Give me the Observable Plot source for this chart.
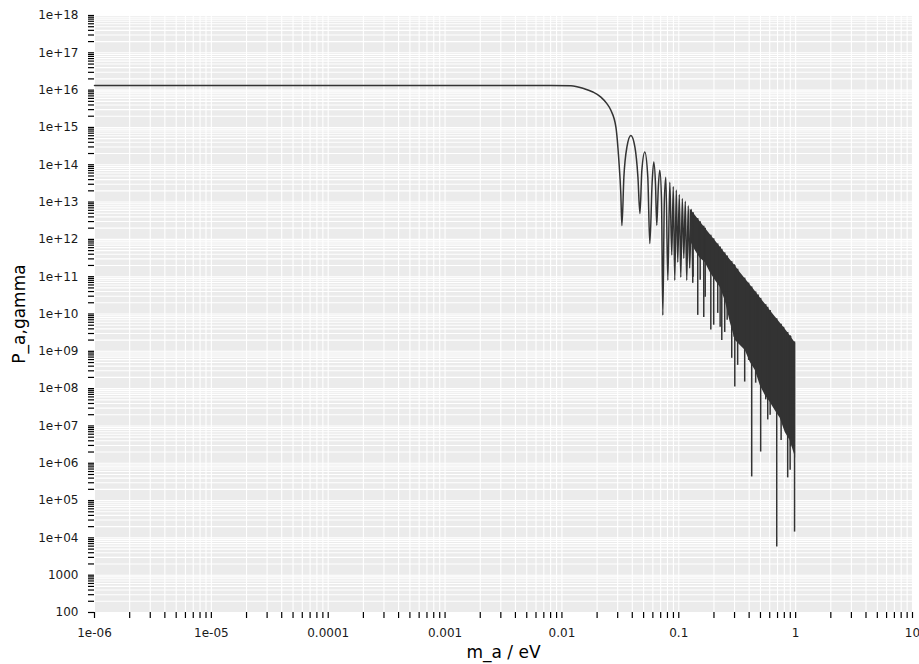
<!DOCTYPE html>
<html><head><meta charset="utf-8">
<script src="https://cdn.jsdelivr.net/npm/d3@7"></script>
<script src="https://cdn.jsdelivr.net/npm/@observablehq/plot@0.6"></script>
<style>body{margin:0;background:#fff;}</style>
</head><body><div id="chart"></div>
<script>
// Axis ticks (major decades) and their labels
const xMajorTicks = [1e-6, 1e-5, 1e-4, 1e-3, 1e-2, 1e-1, 1, 10];
const xTickLabels = ["1e-06", "1e-05", "0.0001", "0.001", "0.01", "0.1", "1", "10"];
const yMajorTicks = [1e2, 1e3, 1e4, 1e5, 1e6, 1e7, 1e8, 1e9, 1e10, 1e11, 1e12, 1e13, 1e14, 1e15, 1e16, 1e17, 1e18];
const yTickLabels = ["100", "1000", "1e+04", "1e+05", "1e+06", "1e+07", "1e+08", "1e+09", "1e+10", "1e+11", "1e+12", "1e+13", "1e+14", "1e+15", "1e+16", "1e+17", "1e+18"];

// Resolved part of the curve: m_a (eV) and P_a,gamma
const lineM = [1e-6, 0.00805, 0.01194, 0.0154, 0.0184, 0.02155, 0.02425, 0.02624, 0.02897, 0.0307, 0.0319, 0.0326, 0.0339, 0.036, 0.0389, 0.0421, 0.0447, 0.0465, 0.0483, 0.0512, 0.0543, 0.0565, 0.0592, 0.0611, 0.0632, 0.0648, 0.0668, 0.0688, 0.0712, 0.073, 0.0752, 0.0775, 0.0806, 0.0838, 0.0871, 0.0897, 0.0924, 0.0952, 0.098, 0.101, 0.104, 0.1072, 0.1104, 0.1137, 0.117, 0.1205, 0.124, 0.128, 0.1318];
const lineP = [1.34e16, 1.34e16, 1.32e16, 1.10e16, 8.9e15, 6.5e15, 4.35e15, 2.88e15, 1.02e15, 1.3e14, 1.7e13, 2.35e12, 4.7e13, 3.0e14, 6.1e14, 3.0e14, 4.7e13, 4.9e12, 7.1e13, 2.2e14, 4.7e13, 7.7e11, 3.5e13, 1.19e14, 3.0e13, 2.4e12, 2.5e13, 7.1e13, 1.0e13, 9.3e9, 1.0e13, 4.6e13, 8.0e10, 3.4e13, 3.8e11, 2.6e13, 8.0e10, 2.1e13, 2.45e11, 1.6e13, 9.7e10, 1.25e13, 3.1e11, 1.05e13, 8.0e10, 8.0e12, 1.7e11, 6.4e12, 7.1e10];

// Dense oscillation band: upper envelope and filled lower edge
const bandM = [0.1252, 0.138, 0.1524, 0.1683, 0.1858, 0.2051, 0.2259, 0.2494, 0.2754, 0.3042, 0.335, 0.370, 0.4085, 0.451, 0.4977, 0.5487, 0.605, 0.668, 0.738, 0.815, 0.897, 1.0];
const bandTop = [6.5e12, 4.4e12, 2.98e12, 2.0e12, 1.36e12, 9.2e11, 6.2e11, 4.2e11, 2.84e11, 1.92e11, 1.30e11, 8.8e10, 5.96e10, 4.04e10, 2.72e10, 1.85e10, 1.25e10, 8.4e9, 5.7e9, 3.9e9, 2.6e9, 1.63e9];
const bandBottom = [9.4e11, 5.1e11, 3.1e11, 2.4e11, 1.3e11, 8.0e10, 5.2e10, 2.3e10, 6.0e9, 1.97e9, 1.45e9, 1.06e9, 5.1e8, 3.1e8, 1.22e8, 6.6e7, 4.3e7, 2.6e7, 1.6e7, 6.7e6, 4.1e6, 1.36e6];

// Deep minima (spikes) inside the band
const spikeM = [0.1327, 0.1453, 0.1524, 0.1636, 0.1683, 0.188, 0.199, 0.2154, 0.2259, 0.2333, 0.2472, 0.2594, 0.2838, 0.298, 0.3015, 0.319, 0.3664, 0.396, 0.4207, 0.455, 0.4775, 0.502, 0.5547, 0.577, 0.605, 0.689, 0.751, 0.789, 0.855, 0.897, 0.906, 0.979];
const spikeP = [9.6e10, 9.2e9, 8.0e10, 8.1e9, 2.8e10, 3.7e9, 5.0e9, 1.04e10, 4.4e9, 1.96e9, 3.2e9, 6.8e9, 6.5e8, 2.37e9, 1.1e8, 4.2e8, 1.5e8, 5.7e8, 4.3e5, 1.4e8, 3.1e8, 2.0e6, 5.0e7, 1.45e7, 1.93e7, 5.7e3, 4.1e6, 1.2e7, 4.05e5, 6.5e5, 2.76e6, 1.43e4];

// ---- build tables ----
const expOf = v => Math.round(Math.log10(v));
function minorTicks(majors) {
  const out = [];
  majors.forEach((m, i) => {
    const e = expOf(m);
    if (i === majors.length - 1) { out.push(m); return; }
    for (let d = 1; d <= 9; d++) out.push(+(`${d}e${e}`));
  });
  return out;
}
const xTicks = minorTicks(xMajorTicks);
const yTicks = minorTicks(yMajorTicks);
const xLab = new Map(xMajorTicks.map((v, i) => [v, xTickLabels[i]]));
const yLab = new Map(yMajorTicks.map((v, i) => [v, yTickLabels[i]]));

const line = lineM.map((m, i) => ({m, p: lineP[i]}));
const band = bandM.map((m, i) => ({m, top: bandTop[i], bot: bandBottom[i]}));
const topScale = d3.scaleLog().domain(bandM).range(bandTop.map(Math.log10));
const spikes = spikeM.map((m, i) => ({m, p: spikeP[i], top: Math.pow(10, topScale(m))}));

const ink = "#333333";
const chart = Plot.plot({
  width: 919, height: 664,
  marginLeft: 94, marginRight: 7, marginTop: 15, marginBottom: 52,
  x: {type: "log", domain: [1e-6, 10]},
  y: {type: "log", domain: [100, 1e18]},
  style: {fontFamily: "DejaVu Sans", fontSize: "12px", color: "#1a1a1a", background: "white"},
  marks: [
    Plot.frame({fill: "#ebebeb", stroke: "none"}),
    Plot.ruleX(xTicks, {stroke: "white", strokeWidth: 1.1}),
    Plot.ruleY(yTicks, {stroke: "white", strokeWidth: 1.1}),
    Plot.axisX({ticks: xTicks, tickFormat: d => xLab.get(d) ?? "", tickSize: 6, tickPadding: 10, label: null, stroke: "black", strokeWidth: 1.2}),
    Plot.axisY({ticks: yTicks, tickFormat: d => yLab.get(d) ?? "", tickSize: 6, tickPadding: 10, label: null, stroke: "black", strokeWidth: 1.2}),
    Plot.areaY(band, {x: "m", y1: "bot", y2: "top", fill: ink}),
    Plot.ruleX(spikes, {x: "m", y1: "p", y2: "top", stroke: ink, strokeWidth: 1.5}),
    Plot.line(line, {x: "m", y: "p", stroke: ink, strokeWidth: 1.5, curve: "monotone-x"}),
    Plot.text(["m_a / eV"], {frameAnchor: "bottom", dy: 40, textAnchor: "middle", lineAnchor: "middle", fontSize: 17, fill: "black"}),
    Plot.text(["P_a,gamma"], {frameAnchor: "left", dx: -75, rotate: -90, textAnchor: "middle", lineAnchor: "middle", fontSize: 17, fill: "black"})
  ]
});
document.getElementById("chart").appendChild(chart);
</script>
</body></html>
